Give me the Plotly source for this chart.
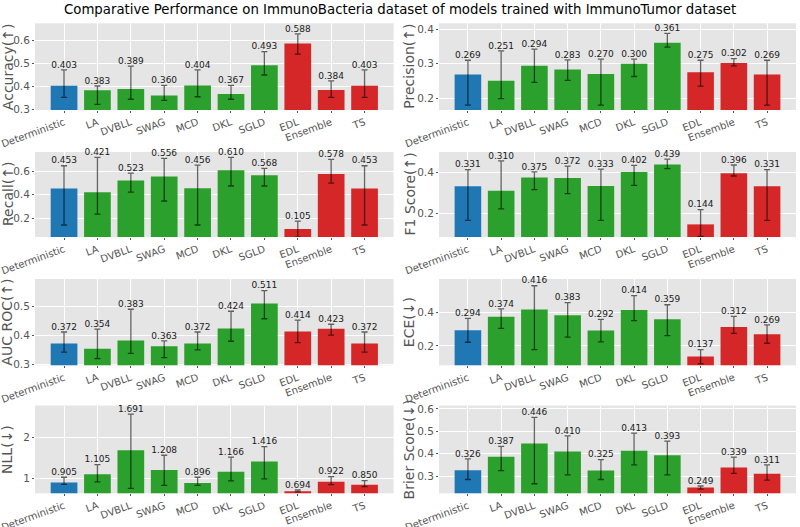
import plotly.graph_objects as go

methods = ["Deterministic", "LA", "DVBLL", "SWAG", "MCD", "DKL", "SGLD", "EDL", "Ensemble", "TS"]
method_group = ["det", "bayes", "bayes", "bayes", "bayes", "bayes", "bayes", "other", "other", "other"]

acc_mean = [0.403, 0.383, 0.389, 0.360, 0.404, 0.367, 0.493, 0.588, 0.384, 0.403]
acc_up = [0.069, 0.019, 0.100, 0.045, 0.068, 0.038, 0.059, 0.042, 0.040, 0.069]
acc_lo = [0.051, 0.061, 0.045, 0.021, 0.049, 0.023, 0.043, 0.047, 0.032, 0.051]

prec_mean = [0.269, 0.251, 0.294, 0.283, 0.270, 0.300, 0.361, 0.275, 0.302, 0.269]
prec_up = [0.041, 0.086, 0.048, 0.028, 0.043, 0.013, 0.027, 0.035, 0.013, 0.041]
prec_lo = [0.089, 0.052, 0.048, 0.031, 0.090, 0.037, 0.013, 0.040, 0.008, 0.089]

rec_mean = [0.453, 0.421, 0.523, 0.556, 0.456, 0.610, 0.568, 0.105, 0.578, 0.453]
rec_up = [0.196, 0.299, 0.063, 0.156, 0.199, 0.110, 0.058, 0.069, 0.125, 0.196]
rec_lo = [0.313, 0.187, 0.100, 0.210, 0.316, 0.135, 0.093, 0.070, 0.078, 0.313]

f1_mean = [0.331, 0.310, 0.375, 0.372, 0.333, 0.402, 0.439, 0.144, 0.396, 0.331]
f1_up = [0.082, 0.146, 0.027, 0.059, 0.083, 0.032, 0.026, 0.073, 0.040, 0.082]
f1_lo = [0.167, 0.090, 0.060, 0.077, 0.169, 0.066, 0.021, 0.059, 0.014, 0.167]

auc_mean = [0.372, 0.354, 0.383, 0.363, 0.372, 0.424, 0.511, 0.414, 0.423, 0.372]
auc_up = [0.040, 0.068, 0.108, 0.018, 0.040, 0.060, 0.045, 0.039, 0.016, 0.040]
auc_lo = [0.030, 0.034, 0.045, 0.040, 0.022, 0.044, 0.053, 0.039, 0.022, 0.030]

ece_mean = [0.294, 0.374, 0.416, 0.383, 0.292, 0.414, 0.359, 0.137, 0.312, 0.269]
ece_up = [0.070, 0.046, 0.142, 0.074, 0.066, 0.085, 0.086, 0.041, 0.064, 0.056]
ece_lo = [0.072, 0.069, 0.238, 0.131, 0.068, 0.064, 0.098, 0.044, 0.037, 0.053]

nll_mean = [0.905, 1.105, 1.691, 1.208, 0.896, 1.166, 1.416, 0.694, 0.922, 0.850]
nll_up = [0.129, 0.236, 0.880, 0.362, 0.138, 0.356, 0.364, 0.030, 0.127, 0.101]
nll_lo = [0.042, 0.185, 0.925, 0.369, 0.057, 0.222, 0.423, 0.015, 0.068, 0.045]

brier_mean = [0.326, 0.387, 0.446, 0.410, 0.325, 0.413, 0.393, 0.249, 0.339, 0.311]
brier_up = [0.051, 0.046, 0.116, 0.070, 0.049, 0.079, 0.063, 0.007, 0.046, 0.039]
brier_lo = [0.041, 0.062, 0.180, 0.104, 0.040, 0.063, 0.087, 0.007, 0.027, 0.029]

metric_titles = ["Accuracy(↑)", "Precision(↑)", "Recall(↑)", "F1 Score(↑)",
                 "AUC ROC(↑)", "ECE(↓)", "NLL(↓)", "Brier Score(↓)"]
metric_ticks = [[0.3, 0.4, 0.5, 0.6], [0.2, 0.3, 0.4], [0.2, 0.4, 0.6], [0.2, 0.4],
                [0.3, 0.4, 0.5], [0.2, 0.4], [1, 2], [0.3, 0.4, 0.5, 0.6]]

panels = [
    (acc_mean, acc_up, acc_lo),
    (prec_mean, prec_up, prec_lo),
    (rec_mean, rec_up, rec_lo),
    (f1_mean, f1_up, f1_lo),
    (auc_mean, auc_up, auc_lo),
    (ece_mean, ece_up, ece_lo),
    (nll_mean, nll_up, nll_lo),
    (brier_mean, brier_up, brier_lo),
]

# ---- styling / layout ----
W, H = 800, 527
group_color = {"det": "#1f77b4", "bayes": "#2ca02c", "other": "#d62728"}
bar_colors = [group_color[g] for g in method_group]

y_ranges = [[0.297, 0.676], [0.166, 0.417], [0.037, 0.767], [0.082, 0.500],
            [0.2965, 0.596], [0.085, 0.598], [0.644, 2.78], [0.2235, 0.615]]
col_px = [(35, 393.6), (439, 796)]
row_px = [(23.3, 110), (152, 237), (279, 365.3), (405.5, 493.3)]
title_x_px = [7.5, 409]

fig = go.Figure()
annotations = []
for i, (mean, up, lo) in enumerate(panels):
    n = i + 1
    r, c = i // 2, i % 2
    xa = "x" if n == 1 else f"x{n}"
    ya = "y" if n == 1 else f"y{n}"
    fig.add_trace(go.Bar(
        x=methods, y=mean, width=0.8,
        marker=dict(color=bar_colors, line=dict(width=0)),
        error_y=dict(type="data", symmetric=False, array=up, arrayminus=lo,
                     color="rgba(0,0,0,0.6)", thickness=1.3, width=3),
        xaxis=xa, yaxis=ya, showlegend=False, hoverinfo="skip"))
    fig.add_trace(go.Scatter(
        x=methods, y=[m + u for m, u in zip(mean, up)], mode="text",
        text=[f"{m:.3f}" for m in mean], textposition="top center",
        textfont=dict(size=9, color="#1a1a1a", family="DejaVu Sans"),
        cliponaxis=False, xaxis=xa, yaxis=ya, showlegend=False, hoverinfo="skip"))
    x0, x1 = col_px[c]
    y0, y1 = row_px[r]
    xdom = [x0 / W, x1 / W]
    ydom = [1 - y1 / H, 1 - y0 / H]
    fig.layout[f"xaxis{'' if n == 1 else n}"] = dict(
        domain=xdom, anchor=ya, type="category", range=[-0.87, 9.87],
        automargin=False,
        showgrid=True, gridcolor="white", gridwidth=1, zeroline=False,
        tickangle=-20, tickfont=dict(size=10, color="#555", family="DejaVu Sans"),
        ticks="outside", ticklen=2, tickcolor="#555", showline=False)
    fig.layout[f"yaxis{'' if n == 1 else n}"] = dict(
        domain=ydom, anchor=xa, range=y_ranges[i], tickvals=metric_ticks[i],
        automargin=False,
        showgrid=True, gridcolor="white", gridwidth=1, zeroline=False,
        tickfont=dict(size=10.5, color="#555", family="DejaVu Sans"),
        ticks="outside", ticklen=2, tickcolor="#555", showline=False)
    annotations.append(dict(
        text=metric_titles[i], x=title_x_px[c] / W, y=(ydom[0] + ydom[1]) / 2,
        xref="paper", yref="paper", xanchor="center", yanchor="middle",
        textangle=-90, showarrow=False,
        font=dict(size=14, color="#555", family="DejaVu Sans")))

annotations.append(dict(
    text="Comparative Performance on ImmunoBacteria dataset of models trained with ImmunoTumor dataset",
    x=0.5, y=1 - 10 / H, xref="paper", yref="paper", xanchor="center", yanchor="middle",
    showarrow=False, font=dict(size=13.3, color="black", family="DejaVu Sans")))

fig.update_layout(
    width=W, height=H, margin=dict(l=0, r=0, t=0, b=0, autoexpand=False),
    paper_bgcolor="white", plot_bgcolor="#E5E5E5",
    bargap=0.2, annotations=annotations,
    font=dict(family="DejaVu Sans"))

fig.write_html("out.html")
